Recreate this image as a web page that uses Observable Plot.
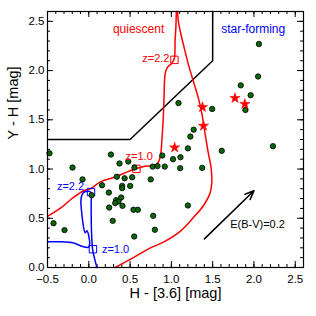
<!DOCTYPE html>
<html><head><meta charset="utf-8">
<script src="https://cdn.jsdelivr.net/npm/d3@7"></script>
<script src="https://cdn.jsdelivr.net/npm/@observablehq/plot@0.6"></script>
<style>
html,body{margin:0;padding:0;background:#fff}
#chart svg{display:block}
</style>
</head><body><div id="chart"></div>
<script>
// ---- data ----
const galX = [-0.476,0.268,2.06,2.05,1.84,1.96,1.086,1.494,1.897,1.27,1.23,1.20,1.61,2.23,0.89,1.02,1.11,-0.197,-0.076,0.16,0.035,-0.427,-0.294,0.372,0.478,0.773,0.832,0.92,1.107,1.373,0.553,0.34,0.434,0.525,0.75,0.404,0.404,0.501,0.243,0.392,0.332,0.36,0.32,0.408,0.247,0.541,0.594,0.78,0.80,0.29,0.55,1.20];
const galY = [1.16,1.147,2.27,1.94,1.85,1.75,1.67,1.61,1.60,1.40,1.33,1.21,1.185,1.232,1.137,1.10,1.12,1.015,0.895,0.836,0.735,0.45,0.38,1.056,1.076,1.025,1.03,1.025,1.009,1.012,1.015,0.922,0.906,0.916,0.895,0.829,0.806,0.829,0.761,0.711,0.684,0.67,0.654,0.626,0.609,0.586,0.586,0.525,0.383,0.474,0.315,0.63];

const starX = [1.377,1.389,1.77,1.89,1.04];
const starY = [1.628,1.438,1.72,1.66,1.218];

// selection boundary
const boxX = [-0.5,0.5,1.5,1.5];
const boxY = [1.3,1.3,2.1,2.6];

// quiescent tracks (red)
const redAX = [-0.5,-0.33,-0.19,-0.06,0.02,0.14,0.30,0.42,0.54,0.70,0.78,0.84,0.87,0.885,0.90,0.91,0.925,0.95,1.00,1.035,1.045,1.055,1.06];
const redAY = [0.52,0.61,0.71,0.78,0.80,0.87,0.914,0.954,0.995,1.03,1.03,1.066,1.15,1.29,1.49,1.69,1.97,2.03,2.07,2.12,2.30,2.45,2.6];
const redBX = [1.075,1.085,1.11,1.15,1.21,1.27,1.33,1.37,1.41,1.45,1.47,1.485,1.49,1.47,1.39,1.27,1.11,0.91,0.74,0.54,0.32];
const redBY = [2.6,2.5,2.39,2.25,2.05,1.88,1.71,1.56,1.35,1.15,1.07,0.98,0.87,0.76,0.63,0.51,0.37,0.26,0.196,0.10,0.0];

// star-forming track (blue)
const blueX = [0.098,0.071,0.047,0.035,0.029,0.029,0.029,-0.001,-0.05,-0.083,-0.096,-0.088,-0.071,-0.044,-0.023,0.011,-0.007,-0.064,-0.185,-0.346,-0.5];
const blueY = [0,0.088,0.18,0.322,0.525,0.677,0.758,0.774,0.769,0.738,0.677,0.576,0.454,0.352,0.373,0.24,0.205,0.21,0.248,0.261,0.261];

// redshift markers
const zRedX = [0.577,1.037];
const zRedY = [1.002,2.109];
const zBlueX = [0.05,0.027];
const zBlueY = [0.186,0.766];

// reddening vector
const arrowX = [1.4,2.0];
const arrowY = [0.29,0.78];

// tick values
const xTicks = [-0.5,0,0.5,1,1.5,2,2.5];
const yTicks = [0,0.5,1,1.5,2,2.5];
const xMinor = d3.range(-5,27).map(i=>i/10);
const yMinor = d3.range(0,27).map(i=>i/10);

const xLabel = "H - [3.6] [mag]";
const yLabel = "Y - H [mag]";

// ---- layout ----
const W=316,H=316,mt=11,mb=49,ml=47,mr=13;
const fh=H-mt-mb, fw=W-ml-mr;
const fmt = d3.format(".1f");
const pts = (xs,ys)=>xs.map((x,i)=>({x,y:ys[i]}));

const chart = Plot.plot({
  width:W,height:H,marginTop:mt,marginBottom:mb,marginLeft:ml,marginRight:mr,
  x:{domain:[-0.5,2.6]},
  y:{domain:[0,2.6]},
  style:{fontFamily:"'Liberation Sans', Arial, sans-serif",fontSize:"12px",background:"#fff",color:"#000"},
  marks:[
    Plot.axisX({ticks:xTicks,tickSize:0,tickPadding:7,tickFormat:fmt,label:null,fontSize:11.5}),
    Plot.axisY({ticks:yTicks,tickSize:0,tickPadding:3,tickFormat:fmt,label:null,fontSize:11.5}),
    // minor & major ticks on all four sides
    Plot.tickX(xMinor,{x:d=>d,insetTop:fh-3,stroke:"#000"}),
    Plot.tickX(xMinor,{x:d=>d,insetBottom:fh-3,stroke:"#000"}),
    Plot.tickX(xTicks,{x:d=>d,insetTop:fh-6,stroke:"#000"}),
    Plot.tickX(xTicks,{x:d=>d,insetBottom:fh-6,stroke:"#000"}),
    Plot.tickY(yMinor,{y:d=>d,insetRight:fw-3,stroke:"#000"}),
    Plot.tickY(yMinor,{y:d=>d,insetLeft:fw-3,stroke:"#000"}),
    Plot.tickY(yTicks,{y:d=>d,insetRight:fw-6,stroke:"#000"}),
    Plot.tickY(yTicks,{y:d=>d,insetLeft:fw-6,stroke:"#000"}),
    // selection line
    Plot.line(pts(boxX,boxY),{x:"x",y:"y",stroke:"#000",strokeWidth:1.5}),
    // tracks
    Plot.line(pts(redAX,redAY),{x:"x",y:"y",stroke:"#ff0000",strokeWidth:1.5,curve:"catmull-rom"}),
    Plot.line(pts(redBX,redBY),{x:"x",y:"y",stroke:"#ff0000",strokeWidth:1.5,curve:"catmull-rom"}),
    Plot.line(pts(blueX,blueY),{x:"x",y:"y",stroke:"#0000ff",strokeWidth:1.5,curve:"catmull-rom"}),
    // redshift squares
    Plot.dot(pts(zRedX,zRedY),{x:"x",y:"y",symbol:"square",r:4.2,stroke:"#ff0000",strokeWidth:1,fill:"none"}),
    Plot.dot(pts(zBlueX,zBlueY),{x:"x",y:"y",symbol:"square",r:4.2,stroke:"#0000ff",strokeWidth:1,fill:"none"}),
    // galaxies
    Plot.dot(pts(galX,galY),{x:"x",y:"y",r:2.7,fill:"#0b650b",stroke:"#000",strokeWidth:0.8}),
    Plot.dot(pts(starX,starY),{x:"x",y:"y",symbol:"star",r:3.2,fill:"#ff0000",stroke:"#ff0000",strokeWidth:0.6}),
    // reddening arrow
    Plot.arrow([0],{x1:()=>arrowX[0],y1:()=>arrowY[0],x2:()=>arrowX[1],y2:()=>arrowY[1],stroke:"#000",strokeWidth:1.6,headLength:9,headAngle:45}),
    // annotations
    Plot.text(["quiescent"],{x:[0.292],y:[2.42],text:d=>d,textAnchor:"start",fill:"#ff0000",fontSize:12}),
    Plot.text(["star-forming"],{x:[1.603],y:[2.42],text:d=>d,textAnchor:"start",fill:"#0000ff",fontSize:12}),
    Plot.text(["z=2.2"],{x:[0.977],y:[2.12],text:d=>d,textAnchor:"end",fill:"#ff0000",fontSize:11}),
    Plot.text(["z=1.0"],{x:[0.61],y:[1.127],text:d=>d,textAnchor:"middle",fill:"#ff0000",fontSize:11}),
    Plot.text(["z=2.2"],{x:[-0.056],y:[0.819],text:d=>d,textAnchor:"end",fill:"#0000ff",fontSize:11}),
    Plot.text(["z=1.0"],{x:[0.159],y:[0.18],text:d=>d,textAnchor:"start",fill:"#0000ff",fontSize:11}),
    Plot.text(["E(B-V)=0.2"],{x:[1.712],y:[0.434],text:d=>d,textAnchor:"start",fill:"#000",fontSize:11}),
    // axis titles
    Plot.text([xLabel],{frameAnchor:"bottom",text:d=>d,dy:30,fontSize:14.5,fill:"#000"}),
    Plot.text([yLabel],{frameAnchor:"left",text:d=>d,rotate:-90,dx:-34,fontSize:14.5,fill:"#000"}),
    Plot.frame({stroke:"#000",strokeWidth:1.2})
  ]
});
document.getElementById("chart").appendChild(chart);
</script>
</body></html>
